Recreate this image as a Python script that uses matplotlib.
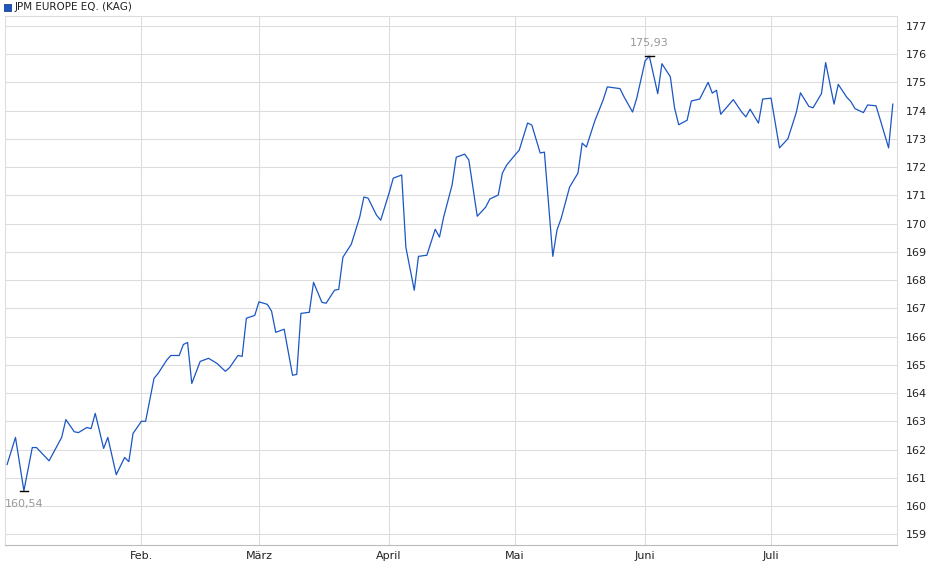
import matplotlib
matplotlib.use("Agg")
import matplotlib.pyplot as plt
import matplotlib.dates as mdates
import pandas as pd

dates = ["2024-12-31","2025-01-02","2025-01-04","2025-01-06","2025-01-07","2025-01-10","2025-01-13","2025-01-14",
 "2025-01-16","2025-01-17","2025-01-19","2025-01-20","2025-01-21","2025-01-23","2025-01-24","2025-01-26","2025-01-28",
 "2025-01-29","2025-01-30","2025-02-01","2025-02-02","2025-02-04","2025-02-05","2025-02-07","2025-02-08","2025-02-10",
 "2025-02-11","2025-02-12","2025-02-13","2025-02-15","2025-02-17","2025-02-19","2025-02-21","2025-02-22","2025-02-24",
 "2025-02-25","2025-02-26","2025-02-28","2025-03-01","2025-03-03","2025-03-04","2025-03-05","2025-03-07","2025-03-09",
 "2025-03-10","2025-03-11","2025-03-13","2025-03-14","2025-03-16","2025-03-17","2025-03-19","2025-03-20","2025-03-21",
 "2025-03-23","2025-03-25","2025-03-26","2025-03-27","2025-03-29","2025-03-30","2025-04-01","2025-04-02","2025-04-04",
 "2025-04-05","2025-04-07","2025-04-08","2025-04-10","2025-04-12","2025-04-13","2025-04-14","2025-04-16","2025-04-17",
 "2025-04-19","2025-04-20","2025-04-22","2025-04-24","2025-04-25","2025-04-27","2025-04-28","2025-04-29","2025-05-01",
 "2025-05-02","2025-05-04","2025-05-05","2025-05-07","2025-05-08","2025-05-10","2025-05-11","2025-05-12","2025-05-14",
 "2025-05-16","2025-05-17","2025-05-18","2025-05-20","2025-05-22","2025-05-23","2025-05-26","2025-05-27","2025-05-29",
 "2025-05-30","2025-06-01","2025-06-02","2025-06-04","2025-06-05","2025-06-07","2025-06-08","2025-06-09","2025-06-11",
 "2025-06-12","2025-06-14","2025-06-16","2025-06-17","2025-06-18","2025-06-19","2025-06-22","2025-06-24","2025-06-25",
 "2025-06-26","2025-06-28","2025-06-29","2025-07-01","2025-07-03","2025-07-05","2025-07-07","2025-07-08","2025-07-10",
 "2025-07-11","2025-07-13","2025-07-14","2025-07-16","2025-07-17","2025-07-19","2025-07-20","2025-07-21","2025-07-23",
 "2025-07-24","2025-07-26","2025-07-27","2025-07-29","2025-07-30"]
values = [161.47,162.43,160.54,162.07,162.07,161.60,162.43,163.06,
 162.63,162.60,162.78,162.74,163.28,162.04,162.43,161.11,161.72,
 161.57,162.57,163.00,163.00,164.52,164.70,165.16,165.33,165.33,
 165.72,165.79,164.34,165.12,165.23,165.05,164.77,164.90,165.33,
 165.30,166.65,166.75,167.23,167.14,166.90,166.15,166.26,164.63,
 164.66,166.82,166.86,167.92,167.21,167.18,167.64,167.67,168.81,
 169.27,170.23,170.94,170.90,170.30,170.12,171.08,171.61,171.72,
 169.16,167.64,168.84,168.88,169.80,169.52,170.23,171.36,172.35,
 172.46,172.25,170.26,170.58,170.87,171.01,171.79,172.07,172.43,
 172.60,173.56,173.49,172.50,172.53,168.84,169.77,170.19,171.29,
 171.79,172.85,172.71,173.63,174.38,174.84,174.78,174.48,173.95,
 174.44,175.76,175.93,174.60,175.66,175.20,174.10,173.50,173.66,
 174.34,174.41,175.00,174.62,174.72,173.87,174.39,173.95,173.78,
 174.05,173.56,174.41,174.44,172.68,173.00,173.93,174.63,174.15,
 174.10,174.60,175.70,174.23,174.93,174.48,174.32,174.07,173.93,
 174.20,174.17,173.68,172.68,174.23]
month_ticks = ["2025-02-01","2025-03-01","2025-04-01","2025-05-01","2025-06-01","2025-07-01"]
month_labels = ["Feb.","März","April","Mai","Juni","Juli"]
series_name = "JPM EUROPE EQ. (KAG)"

s = pd.Series(values, index=pd.to_datetime(dates))
fig = plt.figure(figsize=(9.4, 5.79), dpi=100)
ax = fig.add_axes([5/940, 1-545/579, 892/940, 529/579])
blue = "#1a56c4"
ax.plot(s.index, s.values, color=blue, lw=0.9)
ax.set_xlim(pd.Timestamp("2024-12-30 12:00"), pd.Timestamp("2025-07-31"))
ax.set_ylim(158.62, 177.35)
ax.yaxis.tick_right()
ax.set_yticks(range(159, 178))
ax.set_xticks(pd.to_datetime(month_ticks))
ax.set_xticklabels(month_labels)
ax.tick_params(labelsize=8, length=0, pad=4, colors="#222222")
ax.tick_params(axis="y", pad=6)
ax.grid(True, color="#dddddd", lw=0.8)
for sp in ax.spines.values():
    sp.set_color("#dddddd")
ax.spines["bottom"].set_color("#bbbbbb")

imin, imax = s.idxmin(), s.idxmax()
for idx, off, va in [(imin, -6, "top"), (imax, 6, "bottom")]:
    v = s[idx]
    ax.plot([idx - pd.Timedelta(days=1), idx + pd.Timedelta(days=1)], [v, v], color="black", lw=1)
    ax.annotate(f"{v:.2f}".replace(".", ","), (idx, v), xytext=(0, off), textcoords="offset points",
                ha="center", va=va, fontsize=8, color="#999999")

fig.patches.append(plt.Rectangle((4/940, 1-11/579), 7/940, 7/579, transform=fig.transFigure,
                                 facecolor=blue, edgecolor="#0a2a70", lw=0.5))
fig.text(15/940, 1-7.5/579, series_name, fontsize=7.5, va="center", ha="left", color="#222222")
fig.savefig("out.png", dpi=100)
